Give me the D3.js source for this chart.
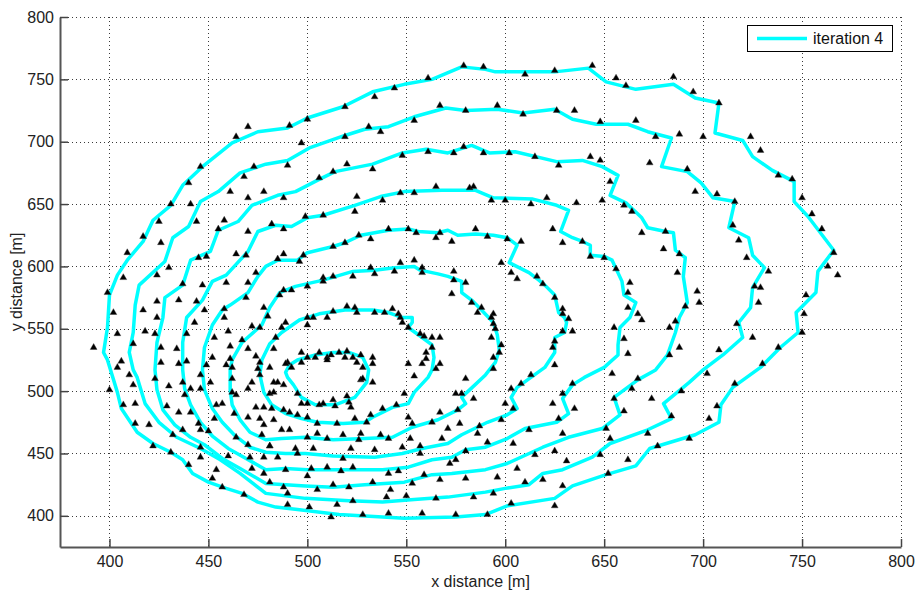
<!DOCTYPE html>
<html>
<head>
<meta charset="utf-8">
<script src="https://cdn.jsdelivr.net/npm/d3@7/dist/d3.min.js"></script>
<style>
  html, body { margin: 0; padding: 0; background: #fff; }
  svg text { font-family: "Liberation Sans", Arial, Helvetica, sans-serif; }
</style>
</head>
<body>
<svg id="chart" width="916" height="592"></svg>
<script>
// Axis ranges and tick labels
const xDomain = [375, 800];
const yDomain = [375, 800];
const xTicks = [400, 450, 500, 550, 600, 650, 700, 750, 800];
const yTicks = [400, 450, 500, 550, 600, 650, 700, 750, 800];
const xLabel = "x distance [m]";
const yLabel = "y distance [m]";
const legendLabel = "iteration 4";

// Fitted curve, one closed ring per turn (outermost first)
const ringA = [[437,665],[447,680],[462,699],[475,708],[490,711],[500,719],[518,728],[533,740],[549,746],[563,750],[578,760],[590,758],[595,756],[625,756],[642,759],[651,748],[666,742],[685,746],[696,735],[708,731],[706,707],[720,701],[725,688],[735,677],[746,668],[746,652],[753,640],[766,613],[758,596],[757,579],[747,563],[748,547],[739,535],[729,519],[715,503],[709,489],[708,475],[696,465],[673,454],[666,440],[651,433],[634,424],[625,414],[601,408],[590,401],[575,399],[549,398],[516,401],[495,405],[484,407],[475,411],[467,418],[459,422],[450,427],[442,434],[437,445],[431,451],[422,458],[414,467],[406,486],[404,499],[399,525],[397,531],[399,551],[400,577],[404,593],[409,605],[417,620],[422,637],[431,649]];
const ringB = [[412,517],[410,531],[412,547],[413,569],[415,585],[428,604],[432,623],[440,632],[446,652],[455,660],[466,675],[479,682],[490,685],[501,695],[519,705],[529,710],[541,712],[554,720],[570,727],[580,725],[596,726],[609,723],[625,726],[634,718],[646,714],[662,714],[672,708],[684,703],[679,680],[692,676],[699,667],[705,655],[716,652],[713,631],[723,623],[725,609],[731,599],[725,583],[724,567],[718,555],[720,543],[710,529],[700,517],[693,507],[680,490],[684,478],[672,469],[653,458],[644,447],[629,437],[619,434],[612,425],[600,422],[590,419],[571,415],[554,413],[538,411],[521,412],[499,414],[479,418],[466,434],[456,445],[446,454],[434,463],[425,475],[418,490],[414,511]];
const ringC = [[423,517],[424,539],[427,559],[428,575],[437,585],[441,605],[451,612],[455,629],[465,636],[472,649],[485,657],[494,660],[505,669],[514,676],[533,682],[548,691],[560,694],[571,691],[583,697],[592,691],[605,692],[626,684],[639,685],[649,680],[657,673],[653,657],[661,651],[665,645],[669,639],[672,631],[681,628],[685,627],[686,613],[691,607],[690,592],[692,571],[688,559],[686,547],[682,529],[676,517],[667,509],[655,495],[658,481],[649,470],[632,463],[619,455],[601,442],[590,437],[573,434],[563,433],[549,427],[529,425],[513,423],[499,424],[479,426],[466,438],[457,446],[448,457],[441,463],[433,473],[427,485],[424,501]];
const ringD = [[437,517],[437,539],[439,559],[447,573],[452,588],[459,593],[470,612],[475,628],[484,633],[492,632],[500,639],[508,641],[524,649],[537,656],[549,660],[568,661],[585,661],[594,655],[614,654],[626,649],[632,645],[628,628],[634,623],[639,620],[643,617],[643,609],[650,608],[654,605],[659,588],[660,577],[666,571],[663,559],[658,551],[657,537],[657,529],[650,519],[640,511],[634,505],[629,494],[632,482],[626,475],[610,470],[601,462],[590,455],[580,453],[573,447],[563,445],[551,439],[538,437],[521,437],[500,437],[489,438],[479,437],[469,446],[460,454],[452,464],[446,475],[441,489],[438,502]];
const ringE = [[447,517],[448,535],[452,553],[457,565],[461,569],[470,579],[475,592],[479,600],[485,605],[495,605],[500,611],[513,616],[519,619],[527,625],[541,629],[551,630],[556,628],[566,627],[571,629],[576,625],[585,626],[594,625],[601,623],[606,617],[602,603],[612,595],[617,589],[620,585],[625,577],[627,563],[630,559],[631,555],[630,547],[625,543],[625,531],[620,519],[613,511],[606,503],[603,495],[606,486],[601,481],[591,475],[578,465],[571,458],[558,454],[548,450],[534,447],[513,448],[499,450],[489,450],[479,451],[471,455],[463,465],[457,475],[452,486],[448,501]];
const ringF = [[461,517],[462,525],[467,539],[477,553],[481,567],[486,579],[494,584],[508,589],[523,596],[534,597],[544,599],[554,600],[557,597],[566,594],[571,592],[578,588],[578,579],[583,573],[588,565],[594,555],[596,545],[597,533],[595,523],[590,513],[582,501],[578,495],[580,490],[576,485],[566,477],[553,471],[543,463],[529,462],[513,461],[499,463],[487,462],[479,461],[471,467],[466,477],[462,489],[461,501]];
const ringG = [[476,513],[477,525],[481,538],[487,547],[496,557],[506,562],[519,565],[533,565],[541,563],[548,559],[553,559],[553,555],[551,551],[558,543],[563,537],[564,527],[563,517],[561,511],[554,499],[551,490],[543,487],[533,479],[529,475],[518,474],[505,475],[497,478],[489,482],[482,489],[478,499]];
const ringH = [[489,515],[491,521],[495,525],[504,529],[513,531],[521,531],[528,527],[531,517],[530,507],[524,495],[514,489],[504,489],[497,495],[493,505],[490,511]];
const rings = [ringA, ringB, ringC, ringD, ringE, ringF, ringG, ringH];

// Measured positions (triangles)
const samples = [
[470,712],[464,704],[446,680],[440,667],[473,680],[468,672],[461,660],[478,660],
[491,713],[500,718],[519,728],[534,736],[544,743],[561,751],[579,761],[589,760],[497,699],[490,681],[519,704],[531,712],[537,708],[554,717],[567,729],[580,725],[506,671],[513,676],[520,682],[533,678],[548,689],[561,692],[574,691],[579,696],[589,691],[565,664],[554,659],[547,659],[582,663],[584,664],
[610,754],[625,757],[644,761],[656,751],[661,745],[685,752],[695,740],[596,729],[609,722],[626,725],[635,725],[648,716],[666,717],[676,704],[688,706],[602,691],[615,688],[627,681],[643,688],[648,685],[653,668],[673,683],[692,678],
[708,731],[700,704],[724,704],[729,693],[738,673],[745,670],[696,660],[707,658],
[431,650],[441,650],[470,655],[425,636],[444,636],[458,637],[455,630],[470,628],[417,624],[426,619],[409,611],[445,607],[449,608],[464,610],[469,609],[430,599],[407,591],[424,593],[474,595],[399,579],[437,586],[447,585],[459,587],[470,587],[424,572],[435,573],[444,572],[469,575],[478,567],[417,565],[424,559],[448,565],[458,566],[402,563],[443,555],[458,559],[480,560],[418,548],[423,546],[439,546],[404,546],[453,543],[460,548],[467,541],[472,552],[476,551],[392,535],[412,538],[426,535],[434,534],[461,536],[470,534],[483,534],[406,524],[426,523],[439,524],[435,522],[452,527],[461,526],[474,528],[476,523],[404,519],[449,521],[459,521],[462,519],[475,518],
[488,655],[525,656],[538,653],[499,640],[508,641],[524,644],[482,634],[488,630],[526,625],[532,622],[541,630],[551,630],[555,627],[565,623],[567,627],[573,620],[585,630],[488,610],[485,606],[498,609],[496,604],[513,616],[519,619],[554,605],[532,599],[534,594],[547,603],[544,596],[558,599],[558,595],[574,596],[574,589],[580,587],[573,578],[583,571],[586,563],[588,567],[508,591],[508,588],[513,592],[523,592],[500,584],[488,581],[492,581],[486,577],[520,568],[524,567],[513,564],[503,559],[510,559],[500,559],[525,563],[534,563],[539,563],[543,566],[546,562],[547,559],[548,555],[551,551],[489,555],[487,551],[500,553],[484,543],[497,531],[500,527],[504,527],[506,531],[510,527],[512,529],[516,531],[520,532],[519,527],[523,527],[527,529],[533,527],[525,523],[528,519],[533,522],[557,546],[559,544],[563,543],[567,543],[563,535],[560,531],[560,526],[567,522],[490,523],[492,519],[489,522],[497,523],[481,519],[558,522],[565,518],
[593,653],[600,653],[613,650],[621,655],[636,651],[649,653],[660,649],[664,644],[669,627],[681,628],[680,614],[688,610],[687,595],[691,568],[686,556],[683,551],[688,535],[683,529],[591,624],[601,622],[608,620],[624,630],[629,619],[639,620],[643,608],[650,607],[656,598],[598,603],[603,595],[606,590],[616,592],[619,586],[625,575],[629,566],[629,562],[632,558],[629,548],[634,548],[625,540],[624,535],[625,521],[594,562],[593,559],[594,554],[595,550],[593,543],[598,537],[597,531],[594,527],[594,518],[655,551],[660,542],[662,530],[663,587],[662,579],[662,567],[667,562],[669,557],
[716,652],[715,633],[718,621],[722,607],[733,596],[726,584],[729,583],[728,571],[717,554],[725,543],[708,533],[697,580],[698,571],[750,655],[755,642],[760,630],[766,611],[763,600],[768,593],[752,577],[751,562],[750,547],[738,535],[730,522],
[410,513],[412,505],[400,501],[407,489],[413,490],[413,474],[420,473],[422,456],[431,451],[432,465],[423,510],[430,504],[437,507],[441,502],[438,497],[446,513],[446,502],[451,507],[462,510],[462,499],[464,497],[472,507],[470,502],[476,513],[481,498],[483,507],[429,488],[435,483],[441,483],[445,474],[450,468],[453,478],[454,489],[457,490],[463,482],[470,479],[474,487],[478,487],[482,486],[476,478],[478,473],[477,465],[470,457],[471,447],[472,438],[478,434],[481,427],[478,447],[481,456],[464,463],[460,448],[454,437],[452,430],[457,423],[468,417],[446,455],[446,447],[440,441],[437,469],[446,469],
[510,525],[551,522],[554,512],[580,510],[485,507],[488,505],[495,498],[483,499],[497,490],[500,490],[508,490],[506,489],[513,493],[514,488],[521,491],[522,487],[520,496],[527,509],[528,510],[533,507],[549,498],[567,483],[576,485],[575,498],[578,498],[584,494],[551,479],[553,474],[545,489],[538,486],[532,481],[530,475],[524,478],[515,474],[505,474],[500,479],[495,481],[491,483],[488,485],[483,477],[487,469],[491,469],[505,466],[500,463],[510,462],[518,465],[527,466],[526,461],[537,465],[541,462],[552,462],[563,475],[571,470],[568,462],[577,474],[586,466],[481,456],[485,447],[494,454],[495,450],[503,454],[518,446],[522,454],[534,453],[548,455],[557,456],[557,450],[572,442],[575,445],[580,452],[489,437],[502,438],[510,439],[517,436],[523,439],[541,434],[546,436],[559,433],[567,429],[580,430],[488,423],[500,432],[505,421],[513,425],[521,423],[533,427],[542,421],[553,426],[490,418],[540,415],[550,416],[565,414],[584,415],[490,409],[501,407],[515,409],[523,412],[512,399],[528,401],[541,402],[558,402],[575,401],
[613,513],[608,506],[603,502],[600,490],[604,486],[598,477],[587,472],[624,490],[629,498],[634,506],[635,486],[627,478],[612,469],[629,466],[604,458],[591,459],[615,449],[625,452],[631,444],[606,438],[596,431],[610,427],[619,429],[629,424],[594,418],[603,410],[625,408],[591,401],[654,514],[667,510],[664,502],[655,494],[660,484],[674,494],[684,480],[672,466],[693,462],[689,500],[651,470],[653,462],[648,449],[662,445],[677,456],[652,434],
[702,514],[716,506],[707,488],[703,478]
];

const svg = d3.select("#chart");
const plot = { left: 60, top: 17, right: 901, bottom: 547 };

const x = d3.scaleLinear().domain(xDomain).range([plot.left, plot.right]);
const y = d3.scaleLinear().domain(yDomain).range([plot.bottom, plot.top]);

// Dotted grid
const grid = svg.append("g").attr("stroke", "#3a3a3a").attr("stroke-width", 1)
  .attr("stroke-dasharray", "1,3");
grid.selectAll("line.gx").data(xTicks).join("line")
  .attr("x1", d => Math.round(x(d)) + 0.5).attr("x2", d => Math.round(x(d)) + 0.5)
  .attr("y1", plot.top).attr("y2", plot.bottom);
grid.selectAll("line.gy").data(yTicks).join("line")
  .attr("y1", d => Math.round(y(d)) + 0.5).attr("y2", d => Math.round(y(d)) + 0.5)
  .attr("x1", plot.left).attr("x2", plot.right);

// Axes (ticks point inward)
const xAxis = d3.axisBottom(x).tickValues(xTicks).tickSizeInner(-8).tickSizeOuter(0).tickPadding(9);
const yAxis = d3.axisLeft(y).tickValues(yTicks).tickSizeInner(-8).tickSizeOuter(0).tickPadding(6);

const gx = svg.append("g").attr("transform", `translate(0,${plot.bottom})`).call(xAxis);
const gy = svg.append("g").attr("transform", `translate(${plot.left},0)`).call(yAxis);
[gx, gy].forEach(g => {
  g.select(".domain").attr("stroke", "#555").attr("stroke-width", 2);
  g.selectAll(".tick line").attr("stroke", "#444").attr("stroke-width", 1.5);
  g.selectAll(".tick text").attr("fill", "#222").style("font-size", "16px")
    .style("font-family", '"Liberation Sans", Arial, sans-serif');
});

// Curve
const line = d3.line().x(d => x(d[0])).y(d => y(d[1])).curve(d3.curveLinearClosed);
svg.append("g").selectAll("path").data(rings).join("path")
  .attr("d", line)
  .attr("fill", "none")
  .attr("stroke", "#00ffff")
  .attr("stroke-width", 3.5)
  .attr("stroke-linejoin", "round");

// Triangle markers
const tri = d3.symbol().type(d3.symbolTriangle).size(20);
svg.append("g").selectAll("path").data(samples).join("path")
  .attr("transform", d => `translate(${x(d[0])},${y(d[1])})`)
  .attr("d", tri)
  .attr("fill", "#000")
  .attr("stroke", "#333")
  .attr("stroke-width", 0.4);

// Axis titles
svg.append("text")
  .attr("x", (plot.left + plot.right) / 2).attr("y", 587)
  .attr("text-anchor", "middle").attr("fill", "#222").style("font-size", "16px")
  .text(xLabel);
svg.append("text")
  .attr("transform", `translate(22,${(plot.top + plot.bottom) / 2}) rotate(-90)`)
  .attr("text-anchor", "middle").attr("fill", "#222").style("font-size", "16px")
  .text(yLabel);

// Legend
const lg = svg.append("g");
lg.append("rect").attr("x", 747.5).attr("y", 25.5).attr("width", 145).attr("height", 26)
  .attr("fill", "#fff").attr("stroke", "#000").attr("stroke-width", 1);
lg.append("line").attr("x1", 757).attr("x2", 807).attr("y1", 38.5).attr("y2", 38.5)
  .attr("stroke", "#00ffff").attr("stroke-width", 3.5);
lg.append("text").attr("x", 813).attr("y", 44).attr("fill", "#111").style("font-size", "16px")
  .text(legendLabel);
</script>
</body>
</html>
